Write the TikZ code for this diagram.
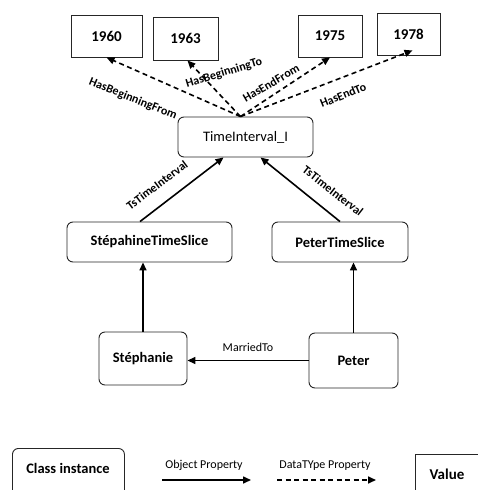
\documentclass[tikz,border=0pt]{standalone}
\usepackage{fontspec}
\setmainfont{Carlito}
\usetikzlibrary{arrows.meta,calc}
\begin{document}
\begin{tikzpicture}[x=1pt,y=-1pt,
  valbox/.style={draw=black!85,line width=0.9pt,inner sep=0pt,font=\fontsize{15}{18}\selectfont\bfseries},
  instbox/.style={draw=black!85,line width=0.9pt,rounded corners=6pt,inner sep=0pt,font=\fontsize{14.5}{17}\selectfont\bfseries},
  objprop/.style={line width=1.6pt,-{Triangle[length=8pt,width=7pt]}},
  dataprop/.style={line width=1.6pt,dash pattern=on 5pt off 3.5pt,-{Triangle[length=8pt,width=7pt]}},
  lbl/.style={inner sep=0pt,font=\fontsize{12}{14}\selectfont\bfseries},
  lblr/.style={inner sep=0pt,font=\fontsize{12}{14}\selectfont}]
\useasboundingbox (0,0) rectangle (478,490);
\clip (0,0) rectangle (478,490);
\fill[white] (0,0) rectangle (478,490);
% value boxes
\node[valbox,minimum width=71pt,minimum height=42pt] (v1960) at (106.5,36) {1960};
\node[valbox,minimum width=65pt,minimum height=43pt] (v1963) at (185.5,38.5) {1963};
\node[valbox,minimum width=64pt,minimum height=42pt] (v1975) at (330,36) {1975};
\node[valbox,minimum width=63pt,minimum height=42pt] (v1978) at (408.5,34) {1978};
% instances
\node[instbox,minimum width=135pt,minimum height=40pt,font=\fontsize{14.5}{17}\selectfont] (ti) at (245.5,137) {TimeInterval\_I};
\node[instbox,minimum width=165pt,minimum height=40pt] (sts) at (149.5,242) {StépahineTimeSlice};
\node[instbox,minimum width=136pt,minimum height=40pt] (pts) at (340,242) {PeterTimeSlice};
\node[instbox,minimum width=88pt,minimum height=53pt] (st) at (143,358.5) {Stéphanie};
\node[instbox,minimum width=89pt,minimum height=55pt] (pe) at (353.5,360.5) {Peter};
% datatype properties
\draw[dataprop] ([xshift=-5pt]ti.north) -- (v1960.south);
\draw[dataprop] ([xshift=-5pt]ti.north) -- ([xshift=2pt]v1963.south);
\draw[dataprop] ([xshift=-5pt]ti.north) -- (v1975.south);
\draw[dataprop] ([xshift=-5pt]ti.north) -- ([xshift=4pt,yshift=5pt]v1978.south);
\node[lbl,rotate=-22] (l1) at (133,99) {HasBeginningFrom};
\node[lbl,rotate=17] (l2) at (224,73) {HasBeginningTo};
\node[lbl,rotate=30] (l3) at (271,83) {HasEndFrom};
\node[lbl,rotate=22] (l4) at (343,95) {HasEndTo};
% object properties
\draw[objprop] ([xshift=-9.5pt]sts.north) -- ([xshift=-22pt]ti.south);
\draw[objprop] (pts.north) -- ([xshift=15pt]ti.south);
\node[lbl,rotate=37] (l5) at (157,185) {TsTimeInterval};
\node[lbl,rotate=-38] (l6) at (333,191) {TsTimeInterval};
\draw[objprop] (st.north) -- (st.north |- sts.south);
\draw[objprop] (pe.north) -- (pe.north |- pts.south);
\draw[objprop] (pe.west) -- (pe.west -| st.east);
\node[lblr] (l7) at (248,347) {MarriedTo};
% legend
\node[instbox,minimum width=112pt,minimum height=50pt,anchor=north west] (leg1) at (12,448) {};
\node[instbox,draw=none] (leg1t) at (68,468) {Class instance};
\coordinate (oa) at (162,480);
\coordinate (ob) at (251,480);
\draw[objprop] (oa) -- (ob);
\node[lblr] (l8) at (204,465) {Object Property};
\coordinate (da) at (277,480);
\coordinate (db) at (376,480);
\draw[dataprop] (da) -- (db);
\node[lblr] (l9) at (325,466) {DataTYpe Property};
\node[valbox,minimum width=80pt,minimum height=50pt,anchor=north west] (leg2) at (414.5,453.5) {};
\node[valbox,draw=none] (leg2t) at (447,474) {Value};
\end{tikzpicture}
\end{document}
